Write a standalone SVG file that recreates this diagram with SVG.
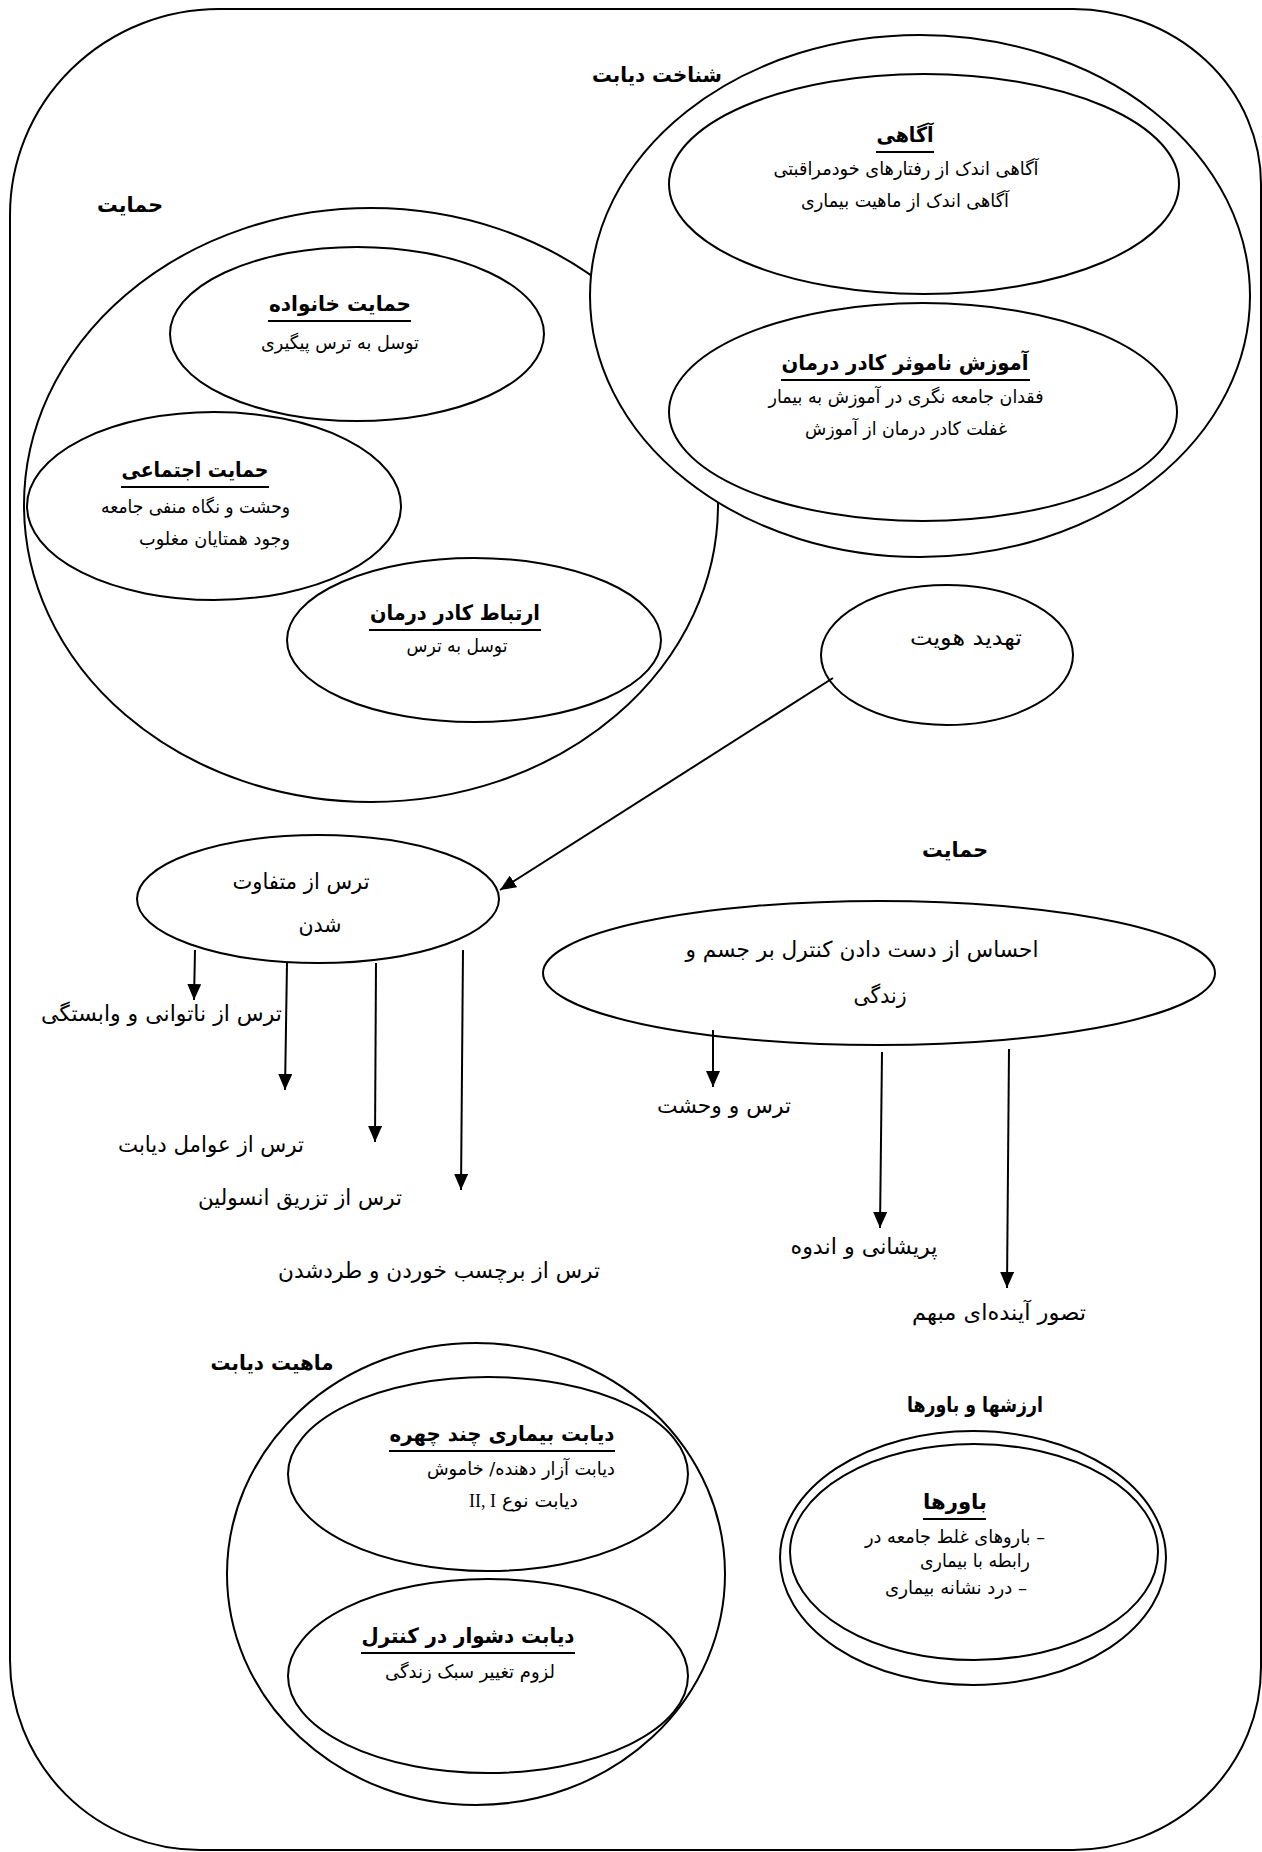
<svg xmlns="http://www.w3.org/2000/svg" width="1262" height="1852" viewBox="0 0 1262 1852">
<style>
.s{fill:none;stroke:#000;stroke-width:2}
.w{fill:#fff;stroke:#000;stroke-width:2}
.t{font-family:"DejaVu Sans",sans-serif;direction:rtl;fill:#000}
.c{text-anchor:middle}
.r{text-anchor:start}
.body{font-size:18.5px}
.lab{font-size:22px}
.ttl{font-size:21px;font-weight:bold}
.hd{font-size:21px;font-weight:bold}
.ul{stroke:#000;stroke-width:2.2}
.ar{stroke:#000;stroke-width:2;fill:none}
</style>
<defs>
<marker id="ah" markerWidth="16" markerHeight="14" refX="16" refY="7" orient="auto" markerUnits="userSpaceOnUse">
<path d="M0,0 L16,7 L0,14 Z" fill="#000"/>
</marker>
<clipPath id="clipShodan"><rect x="250" y="900" width="150" height="37"/></clipPath>
</defs>
<rect x="0" y="0" width="1262" height="1852" fill="#fff"/>
<g id="frame">
<path class="s" d="M219,9 H1073 A189,175 0 0 1 1261,184 V1667 A189,183 0 0 1 1073,1850 H200 A190,190 0 0 1 10,1660 V215 A209,206 0 0 1 219,9 Z"/>
</g>
<g id="himayat-group">
<ellipse class="s" cx="371" cy="505" rx="347" ry="297"/>
<text class="t hd c" x="130" y="212" textLength="66" lengthAdjust="spacingAndGlyphs">حمایت</text>
</g>
<g id="shenakht-group">
<ellipse class="w" cx="920" cy="296" rx="330" ry="261"/>
<text class="t hd c" x="657" y="82" textLength="130" lengthAdjust="spacingAndGlyphs">شناخت دیابت</text>
</g>
<g id="agahi">
<ellipse class="s" cx="924" cy="184" rx="255" ry="110"/>
<text class="t ttl c" x="905" y="142" textLength="57" lengthAdjust="spacingAndGlyphs">آگاهی</text>
<line class="ul" x1="876" y1="152" x2="934" y2="152"/>
<text class="t body c" x="906" y="175" textLength="265" lengthAdjust="spacingAndGlyphs">آگاهی اندک از رفتارهای خودمراقبتی</text>
<text class="t body c" x="905" y="207" textLength="208" lengthAdjust="spacingAndGlyphs">آگاهی اندک از ماهیت بیماری</text>
</g>
<g id="amoozesh">
<ellipse class="s" cx="923" cy="412" rx="254" ry="109"/>
<text class="t ttl c" x="905" y="370" textLength="247" lengthAdjust="spacingAndGlyphs">آموزش ناموثر کادر درمان</text>
<line class="ul" x1="781" y1="380" x2="1030" y2="380"/>
<text class="t body c" x="906" y="403" textLength="275" lengthAdjust="spacingAndGlyphs">فقدان جامعه نگری در آموزش به بیمار</text>
<text class="t body c" x="906" y="435" textLength="202" lengthAdjust="spacingAndGlyphs">غفلت کادر درمان از آموزش</text>
</g>
<g id="khanevadeh">
<ellipse class="s" cx="357" cy="334" rx="187" ry="87"/>
<text class="t ttl c" x="340" y="311" textLength="142" lengthAdjust="spacingAndGlyphs">حمایت خانواده</text>
<line class="ul" x1="268" y1="321" x2="411" y2="321"/>
<text class="t body c" x="340" y="349" textLength="158" lengthAdjust="spacingAndGlyphs">توسل به ترس پیگیری</text>
</g>
<g id="ejtemaei">
<ellipse class="s" cx="214" cy="506" rx="187" ry="94"/>
<text class="t ttl c" x="195" y="477" textLength="147" lengthAdjust="spacingAndGlyphs">حمایت اجتماعی</text>
<line class="ul" x1="121" y1="487" x2="269" y2="487"/>
<text class="t body r" x="290" y="513" textLength="189" lengthAdjust="spacingAndGlyphs">وحشت و نگاه منفی جامعه</text>
<text class="t body r" x="290" y="545" textLength="151" lengthAdjust="spacingAndGlyphs">وجود همتایان مغلوب</text>
</g>
<g id="ertebat">
<ellipse class="s" cx="474" cy="640" rx="187" ry="82"/>
<text class="t ttl c" x="455" y="620" textLength="170" lengthAdjust="spacingAndGlyphs">ارتباط کادر درمان</text>
<line class="ul" x1="369" y1="630" x2="541" y2="630"/>
<text class="t body c" x="457" y="652" textLength="101" lengthAdjust="spacingAndGlyphs">توسل به ترس</text>
</g>
<g id="tahdid">
<ellipse class="s" cx="947" cy="655" rx="126" ry="70"/>
<text class="t lab c" x="966" y="645" textLength="112" lengthAdjust="spacingAndGlyphs">تهدید هویت</text>
</g>
<g id="himayat-label2">
<text class="t hd c" x="955" y="857" textLength="66" lengthAdjust="spacingAndGlyphs">حمایت</text>
</g>
<g id="motefavet">
<ellipse class="s" cx="318" cy="899" rx="181" ry="64"/>
<text class="t lab c" x="301" y="889" textLength="137" lengthAdjust="spacingAndGlyphs">ترس از متفاوت</text>
<text class="t lab c" x="320" y="932" clip-path="url(#clipShodan)" textLength="43" lengthAdjust="spacingAndGlyphs">شدن</text>
</g>
<g id="ehsas">
<ellipse class="s" cx="879" cy="973" rx="336" ry="72"/>
<text class="t lab c" x="862" y="957" textLength="353" lengthAdjust="spacingAndGlyphs">احساس از دست دادن کنترل بر جسم و</text>
<text class="t lab c" x="880" y="1003" textLength="53" lengthAdjust="spacingAndGlyphs">زندگی</text>
</g>
<g id="labels-fear">
<text class="t lab r" x="282" y="1021" textLength="241" lengthAdjust="spacingAndGlyphs">ترس از ناتوانی و وابستگی</text>
<text class="t lab c" x="211" y="1152" textLength="186" lengthAdjust="spacingAndGlyphs">ترس از عوامل دیابت</text>
<text class="t lab c" x="300" y="1205" textLength="204" lengthAdjust="spacingAndGlyphs">ترس از تزریق انسولین</text>
<text class="t lab c" x="439" y="1278" textLength="322" lengthAdjust="spacingAndGlyphs">ترس از برچسب خوردن و طردشدن</text>
</g>
<g id="labels-control">
<text class="t lab c" x="724" y="1113" textLength="134" lengthAdjust="spacingAndGlyphs">ترس و وحشت</text>
<text class="t lab c" x="864" y="1254" textLength="147" lengthAdjust="spacingAndGlyphs">پریشانی و اندوه</text>
<text class="t lab c" x="999" y="1320" textLength="174" lengthAdjust="spacingAndGlyphs">تصور آینده‌ای مبهم</text>
</g>
<g id="mahiat-group">
<ellipse class="s" cx="476" cy="1574" rx="249" ry="231"/>
<text class="t hd c" x="272" y="1370" textLength="123" lengthAdjust="spacingAndGlyphs">ماهیت دیابت</text>
</g>
<g id="chand-chehreh">
<ellipse class="s" cx="488" cy="1474" rx="200" ry="97"/>
<text class="t ttl c" x="502" y="1441" textLength="225" lengthAdjust="spacingAndGlyphs">دیابت بیماری چند چهره</text>
<line class="ul" x1="389" y1="1451" x2="615" y2="1451"/>
<text class="t body r" x="615" y="1475" textLength="188" lengthAdjust="spacingAndGlyphs">دیابت آزار دهنده/ خاموش</text>
<text class="t body r" x="578" y="1507" textLength="76" lengthAdjust="spacingAndGlyphs">دیابت نوع</text>
<text x="496" y="1507" text-anchor="end" font-family="Liberation Serif, serif" font-size="18">II, I</text>
</g>
<g id="dushvar">
<ellipse class="s" cx="488" cy="1676" rx="200" ry="97"/>
<text class="t ttl c" x="468" y="1643" textLength="213" lengthAdjust="spacingAndGlyphs">دیابت دشوار در کنترل</text>
<line class="ul" x1="361" y1="1653" x2="575" y2="1653"/>
<text class="t body c" x="470" y="1678" textLength="170" lengthAdjust="spacingAndGlyphs">لزوم تغییر سبک زندگی</text>
</g>
<g id="arzesh-label">
<text class="t hd c" x="975" y="1412" textLength="136" lengthAdjust="spacingAndGlyphs">ارزشها و باورها</text>
</g>
<g id="bavarha">
<ellipse class="s" cx="973" cy="1558" rx="193" ry="127"/>
<ellipse class="s" cx="974" cy="1552" rx="184" ry="108"/>
<text class="t ttl c" x="955" y="1509" textLength="64" lengthAdjust="spacingAndGlyphs">باورها</text>
<line class="ul" x1="923" y1="1519" x2="986" y2="1519"/>
<text class="t body r" x="1045" y="1543" textLength="180" lengthAdjust="spacingAndGlyphs">– باروهای غلط جامعه در</text>
<text class="t body r" x="1030" y="1567" textLength="110" lengthAdjust="spacingAndGlyphs">رابطه با بیماری</text>
<text class="t body r" x="1027" y="1594" textLength="142" lengthAdjust="spacingAndGlyphs">– درد نشانه بیماری</text>
</g>
<g id="connectors">
<line class="ar" x1="833" y1="678" x2="500" y2="890" marker-end="url(#ah)"/>
<line class="ar" x1="195" y1="950" x2="194" y2="1000" marker-end="url(#ah)"/>
<line class="ar" x1="287" y1="963" x2="285" y2="1090" marker-end="url(#ah)"/>
<line class="ar" x1="376" y1="963" x2="375" y2="1142" marker-end="url(#ah)"/>
<line class="ar" x1="463" y1="950" x2="461" y2="1190" marker-end="url(#ah)"/>
<line class="ar" x1="713" y1="1030" x2="713" y2="1087" marker-end="url(#ah)"/>
<line class="ar" x1="882" y1="1052" x2="880" y2="1228" marker-end="url(#ah)"/>
<line class="ar" x1="1009" y1="1049" x2="1007" y2="1288" marker-end="url(#ah)"/>
</g>
</svg>
